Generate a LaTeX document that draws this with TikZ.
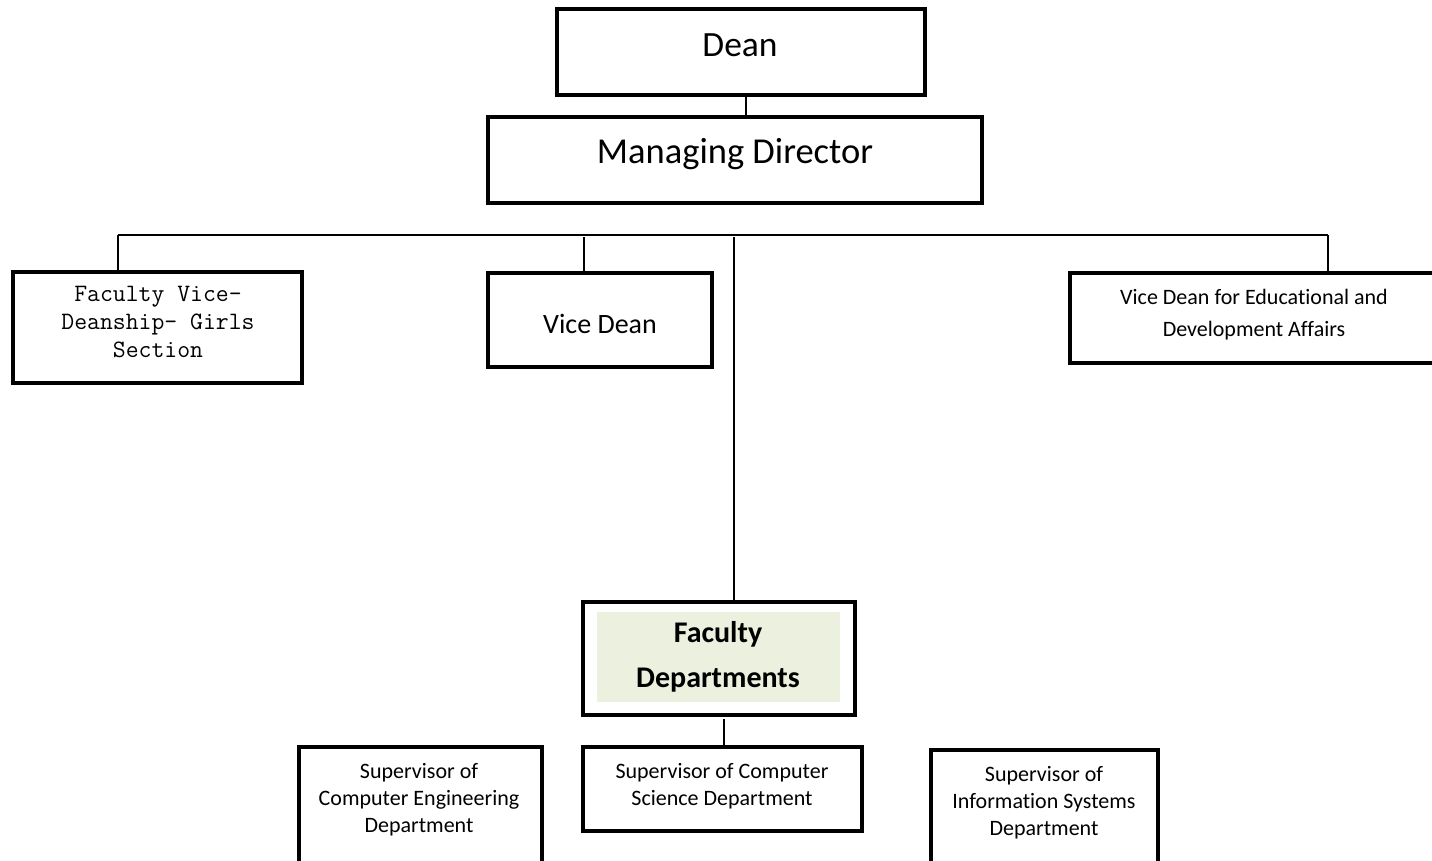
\documentclass[tikz,border=0pt]{standalone}
\usepackage{fontspec}
\setmainfont{Carlito}[Ligatures=NoCommon]
\definecolor{paleGreen}{RGB}{235,241,222}
\begin{document}
\begin{tikzpicture}[x=1pt,y=-1pt,
  box/.style={draw=black,line width=3.2pt,fill=white,inner sep=0pt},
  lbl/.style={inner sep=0pt,align=center,text=black},
  conn/.style={draw=black,line width=1.2pt}]
\useasboundingbox (0,0) rectangle (1432,860);
% boxes
\node[box,minimum width=368,minimum height=86] (dean) at (741,52) {};
\node[box,minimum width=494,minimum height=86] (md) at (735,160) {};
\node[box,minimum width=289,minimum height=111] (girls) at (157.5,327.5) {};
\node[box,minimum width=224,minimum height=94] (vd) at (600,320) {};
\node[box,minimum width=380,minimum height=90] (vde) at (1260,318) {};
\node[box,minimum width=272,minimum height=113] (fd) at (719,658.5) {};
\fill[paleGreen] (597,612) rectangle (840,702);
\node[box,minimum width=279,minimum height=84] (cs) at (722.5,789) {};
\node[box,minimum width=243,minimum height=130] (ce) at (420.5,812) {};
\node[box,minimum width=227,minimum height=126] (is) at (1044.5,813) {};
% labels
\node[lbl,font=\fontsize{35.5}{40}\selectfont] (tdean) at (740,45) {Dean};
\node[lbl,font=\fontsize{36.5}{42}\selectfont] (tmd) at (735,154) {Managing Director};
\node[lbl,font=\ttfamily\fontsize{25}{28}\selectfont] (tgirls) at (158,322) {Faculty Vice-\\Deanship- Girls\\Section};
\node[lbl,font=\fontsize{28}{34}\selectfont] (tvd) at (600,324) {Vice Dean};
\node[lbl,font=\fontsize{22}{32}\selectfont] (tvde) at (1254,315) {Vice Dean for Educational and\\Development Affairs};
\node[lbl,font=\bfseries\fontsize{30}{45}\selectfont] (tfd) at (718,657) {Faculty\\Departments};
\node[lbl,font=\fontsize{22}{27}\selectfont] (tce) at (419,800) {Supervisor of\\Computer Engineering\\Department};
\node[lbl,font=\fontsize{22}{27}\selectfont] (tcs) at (722,786) {Supervisor of Computer\\Science Department};
\node[lbl,font=\fontsize{22}{27}\selectfont] (tis) at (1044,803) {Supervisor of\\Information Systems\\Department};
% connectors
\coordinate (busL) at (118,235);
\coordinate (busR) at (1328,235);
\coordinate (busV) at (584,237);
\coordinate (busC) at (734,237);
\coordinate (fdb) at (724,719);
\draw[conn] (busL) -- (busR);
\draw[conn] ([xshift=5]dean.south) -- ([xshift=5]dean.south |- md.north);
\draw[conn] (busL) -- (busL |- girls.north);
\draw[conn] (busV) -- (busV |- vd.north);
\draw[conn] (busR) -- (busR |- vde.north);
\draw[conn] (busC) -- (busC |- fd.north);
\draw[conn] (fdb) -- (fdb |- cs.north);
\end{tikzpicture}
\end{document}
